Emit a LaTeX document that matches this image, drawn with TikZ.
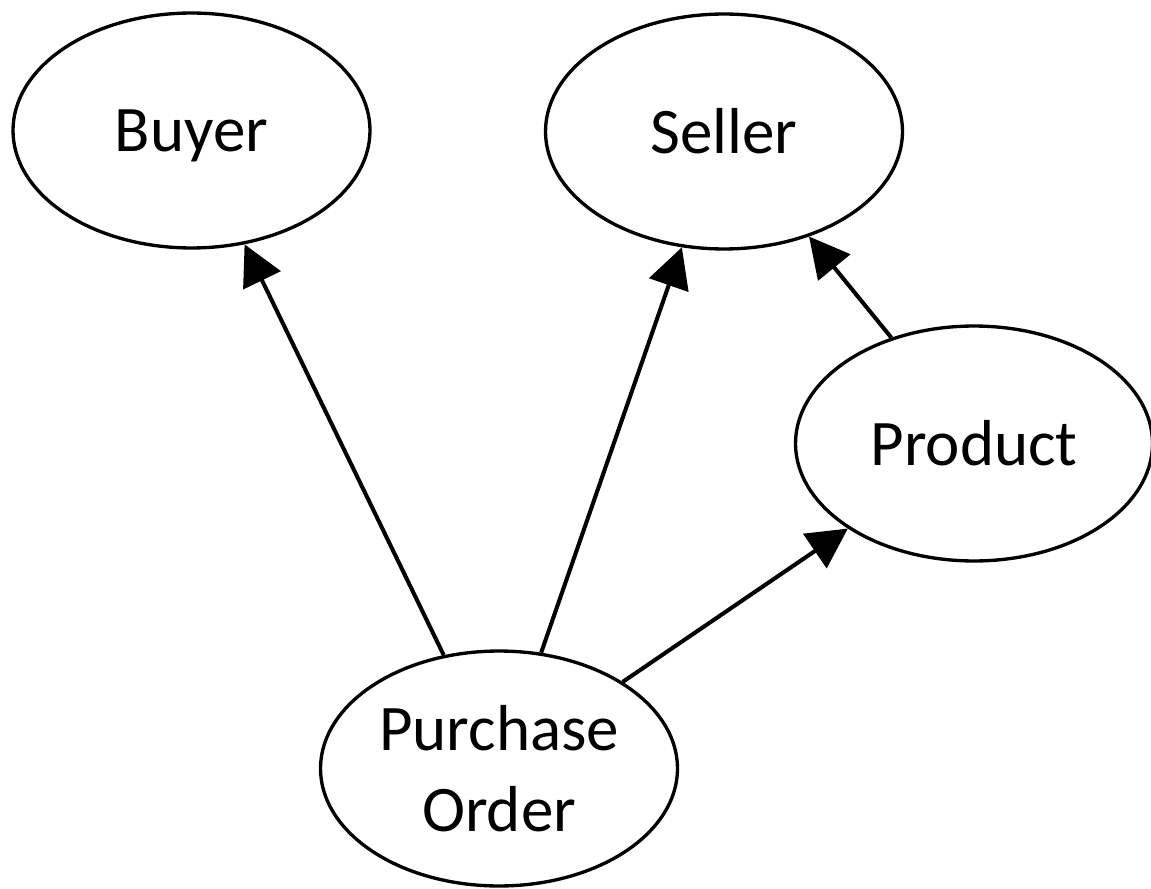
\documentclass[tikz,border=0pt]{standalone}
\usepackage{fontspec}
\setmainfont{Carlito}
\usetikzlibrary{shapes.geometric,arrows.meta}
\begin{document}
\begin{tikzpicture}[x=0.02cm,y=-0.02cm,
  ent/.style={ellipse,draw=black,line width=1.9pt,fill=white,
    minimum width=7.14cm,minimum height=4.7cm,inner sep=0pt,
    font=\fontsize{37}{46}\selectfont,align=center},
  rel/.style={line width=2.3pt,-{Triangle[length=0.8cm,width=0.82cm]}}]
\useasboundingbox[fill=white] (0,0) rectangle (1151,888);
\node[ent,text depth=0pt] (buyer) at (191.5,130.5) {Buyer};
\node[ent] (seller) at (724,131.5) {Seller};
\node[ent] (product) at (974,443.5) {Product};
\node[ent] (po) at (499,768.5) {Purchase\\Order};
\draw[rel] (po.116) -- (buyer.295);
\draw[rel] (po.70.6) -- (seller.250);
\draw[rel] (po.35) -- (product.214.4);
\draw[rel] (product.128) -- (seller.309.3);
\end{tikzpicture}
\end{document}
